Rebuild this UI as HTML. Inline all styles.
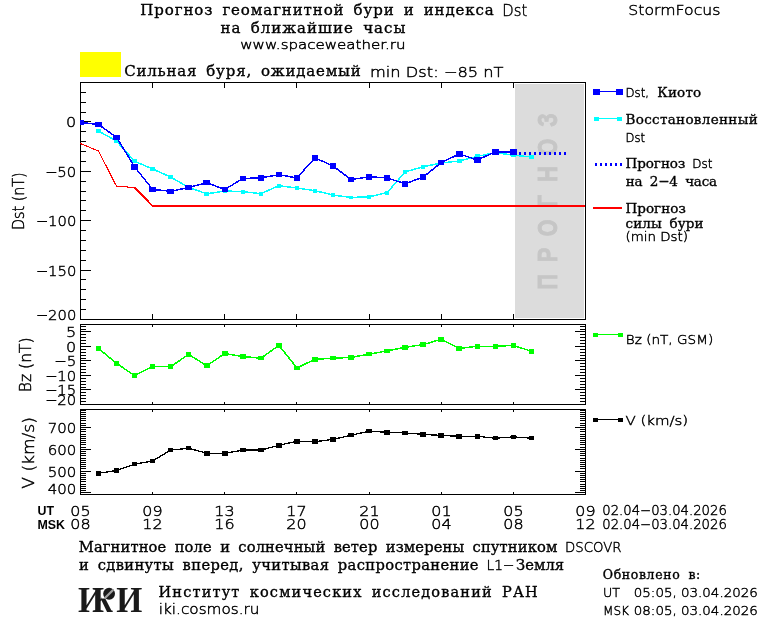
<!DOCTYPE html>
<html><head><meta charset="utf-8"><title>Прогноз геомагнитной бури</title>
<style>html,body{margin:0;padding:0;background:#fff;} svg{display:block;}</style></head>
<body><svg width="760" height="620" viewBox="0 0 760 620">
<rect width="760" height="620" fill="#fff"/>
<g shape-rendering="crispEdges">
<rect x="80" y="52" width="41" height="25" fill="#ffff00"/>
<rect x="515" y="84" width="69" height="234" fill="#dcdcdc"/>
</g>
<text transform="translate(557,281.8) rotate(-90) scale(0.78,1)" font-size="27.5" font-family="Liberation Sans, sans-serif" font-weight="bold" fill="#c6c6c6" stroke="#c6c6c6" stroke-width="0.9" text-anchor="middle">П</text>
<text transform="translate(557,254.9) rotate(-90) scale(0.78,1)" font-size="27.5" font-family="Liberation Sans, sans-serif" font-weight="bold" fill="#c6c6c6" stroke="#c6c6c6" stroke-width="0.9" text-anchor="middle">Р</text>
<text transform="translate(557,227.9) rotate(-90) scale(0.78,1)" font-size="27.5" font-family="Liberation Sans, sans-serif" font-weight="bold" fill="#c6c6c6" stroke="#c6c6c6" stroke-width="0.9" text-anchor="middle">О</text>
<text transform="translate(557,201.0) rotate(-90) scale(0.78,1)" font-size="27.5" font-family="Liberation Sans, sans-serif" font-weight="bold" fill="#c6c6c6" stroke="#c6c6c6" stroke-width="0.9" text-anchor="middle">Г</text>
<text transform="translate(557,174.0) rotate(-90) scale(0.78,1)" font-size="27.5" font-family="Liberation Sans, sans-serif" font-weight="bold" fill="#c6c6c6" stroke="#c6c6c6" stroke-width="0.9" text-anchor="middle">Н</text>
<text transform="translate(557,147.1) rotate(-90) scale(0.78,1)" font-size="27.5" font-family="Liberation Sans, sans-serif" font-weight="bold" fill="#c6c6c6" stroke="#c6c6c6" stroke-width="0.9" text-anchor="middle">О</text>
<text transform="translate(557,120.1) rotate(-90) scale(0.78,1)" font-size="27.5" font-family="Liberation Sans, sans-serif" font-weight="bold" fill="#c6c6c6" stroke="#c6c6c6" stroke-width="0.9" text-anchor="middle">З</text>
<g shape-rendering="crispEdges">
<rect x="80" y="82" width="506" height="1" fill="#000"/>
<rect x="80" y="319" width="506" height="1" fill="#000"/>
<rect x="80" y="82" width="1" height="238" fill="#000"/>
<rect x="585" y="82" width="1" height="238" fill="#000"/>
<rect x="80" y="324" width="506" height="1" fill="#000"/>
<rect x="80" y="404" width="506" height="1" fill="#000"/>
<rect x="80" y="324" width="1" height="81" fill="#000"/>
<rect x="585" y="324" width="1" height="81" fill="#000"/>
<rect x="80" y="409" width="506" height="1" fill="#000"/>
<rect x="80" y="494" width="506" height="1" fill="#000"/>
<rect x="80" y="409" width="1" height="86" fill="#000"/>
<rect x="585" y="409" width="1" height="86" fill="#000"/>
<rect x="152" y="83" width="1" height="5" fill="#000"/>
<rect x="152" y="314" width="1" height="5" fill="#000"/>
<rect x="152" y="325" width="1" height="2" fill="#000"/>
<rect x="152" y="402" width="1" height="2" fill="#000"/>
<rect x="152" y="410" width="1" height="2" fill="#000"/>
<rect x="152" y="492" width="1" height="2" fill="#000"/>
<rect x="224" y="83" width="1" height="5" fill="#000"/>
<rect x="224" y="314" width="1" height="5" fill="#000"/>
<rect x="224" y="325" width="1" height="2" fill="#000"/>
<rect x="224" y="402" width="1" height="2" fill="#000"/>
<rect x="224" y="410" width="1" height="2" fill="#000"/>
<rect x="224" y="492" width="1" height="2" fill="#000"/>
<rect x="296" y="83" width="1" height="5" fill="#000"/>
<rect x="296" y="314" width="1" height="5" fill="#000"/>
<rect x="296" y="325" width="1" height="2" fill="#000"/>
<rect x="296" y="402" width="1" height="2" fill="#000"/>
<rect x="296" y="410" width="1" height="2" fill="#000"/>
<rect x="296" y="492" width="1" height="2" fill="#000"/>
<rect x="369" y="83" width="1" height="5" fill="#000"/>
<rect x="369" y="314" width="1" height="5" fill="#000"/>
<rect x="369" y="325" width="1" height="2" fill="#000"/>
<rect x="369" y="402" width="1" height="2" fill="#000"/>
<rect x="369" y="410" width="1" height="2" fill="#000"/>
<rect x="369" y="492" width="1" height="2" fill="#000"/>
<rect x="441" y="83" width="1" height="5" fill="#000"/>
<rect x="441" y="314" width="1" height="5" fill="#000"/>
<rect x="441" y="325" width="1" height="2" fill="#000"/>
<rect x="441" y="402" width="1" height="2" fill="#000"/>
<rect x="441" y="410" width="1" height="2" fill="#000"/>
<rect x="441" y="492" width="1" height="2" fill="#000"/>
<rect x="513" y="83" width="1" height="5" fill="#000"/>
<rect x="513" y="314" width="1" height="5" fill="#000"/>
<rect x="513" y="325" width="1" height="2" fill="#000"/>
<rect x="513" y="402" width="1" height="2" fill="#000"/>
<rect x="513" y="410" width="1" height="2" fill="#000"/>
<rect x="513" y="492" width="1" height="2" fill="#000"/>
<rect x="81" y="92" width="5" height="1" fill="#000"/>
<rect x="81" y="102" width="5" height="1" fill="#000"/>
<rect x="81" y="112" width="5" height="1" fill="#000"/>
<rect x="81" y="121" width="10" height="1" fill="#000"/>
<rect x="81" y="131" width="5" height="1" fill="#000"/>
<rect x="81" y="141" width="5" height="1" fill="#000"/>
<rect x="81" y="151" width="5" height="1" fill="#000"/>
<rect x="81" y="161" width="5" height="1" fill="#000"/>
<rect x="81" y="171" width="10" height="1" fill="#000"/>
<rect x="81" y="181" width="5" height="1" fill="#000"/>
<rect x="81" y="191" width="5" height="1" fill="#000"/>
<rect x="81" y="200" width="5" height="1" fill="#000"/>
<rect x="81" y="210" width="5" height="1" fill="#000"/>
<rect x="81" y="220" width="10" height="1" fill="#000"/>
<rect x="81" y="230" width="5" height="1" fill="#000"/>
<rect x="81" y="240" width="5" height="1" fill="#000"/>
<rect x="81" y="250" width="5" height="1" fill="#000"/>
<rect x="81" y="260" width="5" height="1" fill="#000"/>
<rect x="81" y="270" width="10" height="1" fill="#000"/>
<rect x="81" y="279" width="5" height="1" fill="#000"/>
<rect x="81" y="289" width="5" height="1" fill="#000"/>
<rect x="81" y="299" width="5" height="1" fill="#000"/>
<rect x="81" y="309" width="5" height="1" fill="#000"/>
<rect x="81" y="326" width="5" height="1" fill="#000"/>
<rect x="580" y="326" width="5" height="1" fill="#000"/>
<rect x="81" y="329" width="5" height="1" fill="#000"/>
<rect x="580" y="329" width="5" height="1" fill="#000"/>
<rect x="81" y="331" width="10" height="1" fill="#000"/>
<rect x="575" y="331" width="10" height="1" fill="#000"/>
<rect x="81" y="334" width="5" height="1" fill="#000"/>
<rect x="580" y="334" width="5" height="1" fill="#000"/>
<rect x="81" y="337" width="5" height="1" fill="#000"/>
<rect x="580" y="337" width="5" height="1" fill="#000"/>
<rect x="81" y="340" width="5" height="1" fill="#000"/>
<rect x="580" y="340" width="5" height="1" fill="#000"/>
<rect x="81" y="343" width="5" height="1" fill="#000"/>
<rect x="580" y="343" width="5" height="1" fill="#000"/>
<rect x="81" y="346" width="10" height="1" fill="#000"/>
<rect x="575" y="346" width="10" height="1" fill="#000"/>
<rect x="81" y="349" width="5" height="1" fill="#000"/>
<rect x="580" y="349" width="5" height="1" fill="#000"/>
<rect x="81" y="352" width="5" height="1" fill="#000"/>
<rect x="580" y="352" width="5" height="1" fill="#000"/>
<rect x="81" y="355" width="5" height="1" fill="#000"/>
<rect x="580" y="355" width="5" height="1" fill="#000"/>
<rect x="81" y="358" width="5" height="1" fill="#000"/>
<rect x="580" y="358" width="5" height="1" fill="#000"/>
<rect x="81" y="360" width="10" height="1" fill="#000"/>
<rect x="575" y="360" width="10" height="1" fill="#000"/>
<rect x="81" y="363" width="5" height="1" fill="#000"/>
<rect x="580" y="363" width="5" height="1" fill="#000"/>
<rect x="81" y="366" width="5" height="1" fill="#000"/>
<rect x="580" y="366" width="5" height="1" fill="#000"/>
<rect x="81" y="369" width="5" height="1" fill="#000"/>
<rect x="580" y="369" width="5" height="1" fill="#000"/>
<rect x="81" y="372" width="5" height="1" fill="#000"/>
<rect x="580" y="372" width="5" height="1" fill="#000"/>
<rect x="81" y="375" width="10" height="1" fill="#000"/>
<rect x="575" y="375" width="10" height="1" fill="#000"/>
<rect x="81" y="378" width="5" height="1" fill="#000"/>
<rect x="580" y="378" width="5" height="1" fill="#000"/>
<rect x="81" y="381" width="5" height="1" fill="#000"/>
<rect x="580" y="381" width="5" height="1" fill="#000"/>
<rect x="81" y="384" width="5" height="1" fill="#000"/>
<rect x="580" y="384" width="5" height="1" fill="#000"/>
<rect x="81" y="387" width="5" height="1" fill="#000"/>
<rect x="580" y="387" width="5" height="1" fill="#000"/>
<rect x="81" y="389" width="10" height="1" fill="#000"/>
<rect x="575" y="389" width="10" height="1" fill="#000"/>
<rect x="81" y="392" width="5" height="1" fill="#000"/>
<rect x="580" y="392" width="5" height="1" fill="#000"/>
<rect x="81" y="395" width="5" height="1" fill="#000"/>
<rect x="580" y="395" width="5" height="1" fill="#000"/>
<rect x="81" y="398" width="5" height="1" fill="#000"/>
<rect x="580" y="398" width="5" height="1" fill="#000"/>
<rect x="81" y="401" width="5" height="1" fill="#000"/>
<rect x="580" y="401" width="5" height="1" fill="#000"/>
<rect x="81" y="410" width="5" height="1" fill="#000"/>
<rect x="580" y="410" width="5" height="1" fill="#000"/>
<rect x="81" y="412" width="5" height="1" fill="#000"/>
<rect x="580" y="412" width="5" height="1" fill="#000"/>
<rect x="81" y="414" width="5" height="1" fill="#000"/>
<rect x="580" y="414" width="5" height="1" fill="#000"/>
<rect x="81" y="416" width="5" height="1" fill="#000"/>
<rect x="580" y="416" width="5" height="1" fill="#000"/>
<rect x="81" y="418" width="5" height="1" fill="#000"/>
<rect x="580" y="418" width="5" height="1" fill="#000"/>
<rect x="81" y="420" width="5" height="1" fill="#000"/>
<rect x="580" y="420" width="5" height="1" fill="#000"/>
<rect x="81" y="423" width="5" height="1" fill="#000"/>
<rect x="580" y="423" width="5" height="1" fill="#000"/>
<rect x="81" y="425" width="5" height="1" fill="#000"/>
<rect x="580" y="425" width="5" height="1" fill="#000"/>
<rect x="81" y="427" width="10" height="1" fill="#000"/>
<rect x="575" y="427" width="10" height="1" fill="#000"/>
<rect x="81" y="429" width="5" height="1" fill="#000"/>
<rect x="580" y="429" width="5" height="1" fill="#000"/>
<rect x="81" y="431" width="5" height="1" fill="#000"/>
<rect x="580" y="431" width="5" height="1" fill="#000"/>
<rect x="81" y="434" width="5" height="1" fill="#000"/>
<rect x="580" y="434" width="5" height="1" fill="#000"/>
<rect x="81" y="436" width="5" height="1" fill="#000"/>
<rect x="580" y="436" width="5" height="1" fill="#000"/>
<rect x="81" y="438" width="5" height="1" fill="#000"/>
<rect x="580" y="438" width="5" height="1" fill="#000"/>
<rect x="81" y="440" width="5" height="1" fill="#000"/>
<rect x="580" y="440" width="5" height="1" fill="#000"/>
<rect x="81" y="442" width="5" height="1" fill="#000"/>
<rect x="580" y="442" width="5" height="1" fill="#000"/>
<rect x="81" y="444" width="5" height="1" fill="#000"/>
<rect x="580" y="444" width="5" height="1" fill="#000"/>
<rect x="81" y="447" width="5" height="1" fill="#000"/>
<rect x="580" y="447" width="5" height="1" fill="#000"/>
<rect x="81" y="449" width="10" height="1" fill="#000"/>
<rect x="575" y="449" width="10" height="1" fill="#000"/>
<rect x="81" y="451" width="5" height="1" fill="#000"/>
<rect x="580" y="451" width="5" height="1" fill="#000"/>
<rect x="81" y="453" width="5" height="1" fill="#000"/>
<rect x="580" y="453" width="5" height="1" fill="#000"/>
<rect x="81" y="455" width="5" height="1" fill="#000"/>
<rect x="580" y="455" width="5" height="1" fill="#000"/>
<rect x="81" y="458" width="5" height="1" fill="#000"/>
<rect x="580" y="458" width="5" height="1" fill="#000"/>
<rect x="81" y="460" width="5" height="1" fill="#000"/>
<rect x="580" y="460" width="5" height="1" fill="#000"/>
<rect x="81" y="462" width="5" height="1" fill="#000"/>
<rect x="580" y="462" width="5" height="1" fill="#000"/>
<rect x="81" y="464" width="5" height="1" fill="#000"/>
<rect x="580" y="464" width="5" height="1" fill="#000"/>
<rect x="81" y="466" width="5" height="1" fill="#000"/>
<rect x="580" y="466" width="5" height="1" fill="#000"/>
<rect x="81" y="468" width="5" height="1" fill="#000"/>
<rect x="580" y="468" width="5" height="1" fill="#000"/>
<rect x="81" y="471" width="10" height="1" fill="#000"/>
<rect x="575" y="471" width="10" height="1" fill="#000"/>
<rect x="81" y="473" width="5" height="1" fill="#000"/>
<rect x="580" y="473" width="5" height="1" fill="#000"/>
<rect x="81" y="475" width="5" height="1" fill="#000"/>
<rect x="580" y="475" width="5" height="1" fill="#000"/>
<rect x="81" y="477" width="5" height="1" fill="#000"/>
<rect x="580" y="477" width="5" height="1" fill="#000"/>
<rect x="81" y="479" width="5" height="1" fill="#000"/>
<rect x="580" y="479" width="5" height="1" fill="#000"/>
<rect x="81" y="481" width="5" height="1" fill="#000"/>
<rect x="580" y="481" width="5" height="1" fill="#000"/>
<rect x="81" y="484" width="5" height="1" fill="#000"/>
<rect x="580" y="484" width="5" height="1" fill="#000"/>
<rect x="81" y="486" width="5" height="1" fill="#000"/>
<rect x="580" y="486" width="5" height="1" fill="#000"/>
<rect x="81" y="488" width="5" height="1" fill="#000"/>
<rect x="580" y="488" width="5" height="1" fill="#000"/>
<rect x="81" y="490" width="5" height="1" fill="#000"/>
<rect x="580" y="490" width="5" height="1" fill="#000"/>
<rect x="81" y="492" width="10" height="1" fill="#000"/>
<rect x="575" y="492" width="10" height="1" fill="#000"/>
</g>
<defs><clipPath id="cd"><rect x="80" y="82" width="505" height="238"/></clipPath></defs>
<g clip-path="url(#cd)">
<polyline points="80,143.4 98.5,151 116.5,186.2 134.5,187.5" fill="none" stroke="#ff0000" stroke-width="1.1" shape-rendering="crispEdges"/>
<polyline points="134.5,187.5 152.5,206 585,206" fill="none" stroke="#ff0000" stroke-width="2" shape-rendering="crispEdges"/>
<polyline points="98.5,131.0 116.6,141.2 134.6,161.2 152.6,169.0 170.7,177.0 188.7,187.5 206.8,193.8 224.8,191.0 242.8,191.6 260.9,193.7 278.9,185.7 296.9,188.0 315.0,190.7 333.0,195.0 351.0,197.5 369.1,196.8 387.1,192.6 405.1,172.0 423.2,166.7 441.2,163.0 459.2,161.0 477.3,156.4 495.3,152.6 513.4,155.2 531.4,157.0" fill="none" stroke="#00ffff" stroke-width="1.5" stroke-linejoin="round" shape-rendering="crispEdges"/>
<g shape-rendering="crispEdges">
<rect x="96" y="129" width="5" height="4" fill="#00ffff"/>
<rect x="114" y="139" width="5" height="4" fill="#00ffff"/>
<rect x="132" y="159" width="5" height="4" fill="#00ffff"/>
<rect x="150" y="167" width="5" height="4" fill="#00ffff"/>
<rect x="168" y="175" width="5" height="4" fill="#00ffff"/>
<rect x="186" y="186" width="5" height="3" fill="#00ffff"/>
<rect x="204" y="192" width="5" height="4" fill="#00ffff"/>
<rect x="223" y="189" width="4" height="4" fill="#00ffff"/>
<rect x="241" y="190" width="4" height="4" fill="#00ffff"/>
<rect x="259" y="192" width="4" height="4" fill="#00ffff"/>
<rect x="277" y="184" width="4" height="4" fill="#00ffff"/>
<rect x="295" y="186" width="4" height="4" fill="#00ffff"/>
<rect x="313" y="189" width="4" height="4" fill="#00ffff"/>
<rect x="331" y="193" width="4" height="4" fill="#00ffff"/>
<rect x="349" y="196" width="4" height="3" fill="#00ffff"/>
<rect x="367" y="195" width="4" height="4" fill="#00ffff"/>
<rect x="385" y="191" width="4" height="4" fill="#00ffff"/>
<rect x="403" y="170" width="4" height="4" fill="#00ffff"/>
<rect x="421" y="165" width="4" height="4" fill="#00ffff"/>
<rect x="439" y="161" width="4" height="4" fill="#00ffff"/>
<rect x="457" y="159" width="5" height="4" fill="#00ffff"/>
<rect x="475" y="154" width="5" height="4" fill="#00ffff"/>
<rect x="493" y="151" width="5" height="4" fill="#00ffff"/>
<rect x="511" y="153" width="5" height="4" fill="#00ffff"/>
<rect x="529" y="155" width="5" height="4" fill="#00ffff"/>
</g>
<polyline points="80.5,122.4 98.5,124.5 116.6,137.5 134.6,166.8 152.6,189.4 170.7,191.3 188.7,187.5 206.8,182.6 224.8,189.5 242.8,178.5 260.9,177.9 278.9,174.7 296.9,177.9 315.0,157.9 333.0,165.9 351.0,179.6 369.1,176.8 387.1,177.9 405.1,183.8 423.2,177.0 441.2,162.7 459.2,153.9 477.3,160.0 495.3,151.8 513.4,151.8" fill="none" stroke="#0000ff" stroke-width="1.5" stroke-linejoin="round" shape-rendering="crispEdges"/>
<g shape-rendering="crispEdges">
<rect x="77" y="120" width="7" height="5" fill="#0000ff"/>
<rect x="95" y="122" width="7" height="5" fill="#0000ff"/>
<rect x="113" y="135" width="7" height="5" fill="#0000ff"/>
<rect x="131" y="164" width="7" height="6" fill="#0000ff"/>
<rect x="149" y="187" width="7" height="5" fill="#0000ff"/>
<rect x="167" y="189" width="7" height="5" fill="#0000ff"/>
<rect x="185" y="185" width="7" height="5" fill="#0000ff"/>
<rect x="203" y="180" width="7" height="5" fill="#0000ff"/>
<rect x="222" y="187" width="6" height="5" fill="#0000ff"/>
<rect x="240" y="176" width="6" height="5" fill="#0000ff"/>
<rect x="258" y="175" width="6" height="6" fill="#0000ff"/>
<rect x="276" y="172" width="6" height="5" fill="#0000ff"/>
<rect x="294" y="175" width="6" height="6" fill="#0000ff"/>
<rect x="312" y="155" width="6" height="6" fill="#0000ff"/>
<rect x="330" y="163" width="6" height="6" fill="#0000ff"/>
<rect x="348" y="177" width="6" height="5" fill="#0000ff"/>
<rect x="366" y="174" width="6" height="6" fill="#0000ff"/>
<rect x="384" y="175" width="6" height="6" fill="#0000ff"/>
<rect x="402" y="181" width="6" height="6" fill="#0000ff"/>
<rect x="420" y="174" width="6" height="6" fill="#0000ff"/>
<rect x="438" y="160" width="6" height="5" fill="#0000ff"/>
<rect x="456" y="151" width="7" height="6" fill="#0000ff"/>
<rect x="474" y="157" width="7" height="6" fill="#0000ff"/>
<rect x="492" y="149" width="7" height="6" fill="#0000ff"/>
<rect x="510" y="149" width="7" height="6" fill="#0000ff"/>
</g>
<line x1="514" y1="153" x2="566" y2="154" stroke="#0000ff" stroke-width="3" stroke-dasharray="2 3" shape-rendering="crispEdges"/>
</g>
<polyline points="98.5,348.5 116.6,363.4 134.6,375.6 152.6,366.6 170.7,366.6 188.7,354.4 206.8,365.7 224.8,353.5 242.8,356.5 260.9,358.2 278.9,345.4 296.9,367.9 315.0,359.3 333.0,358.2 351.0,357.4 369.1,354.2 387.1,350.9 405.1,347.3 423.2,344.6 441.2,339.3 459.2,348.4 477.3,346.3 495.3,346.3 513.4,345.4 531.4,351.3" fill="none" stroke="#00ff00" stroke-width="1.5" stroke-linejoin="round" shape-rendering="crispEdges"/>
<g shape-rendering="crispEdges">
<rect x="96" y="346" width="5" height="5" fill="#00ff00"/>
<rect x="114" y="361" width="5" height="5" fill="#00ff00"/>
<rect x="132" y="373" width="5" height="5" fill="#00ff00"/>
<rect x="150" y="364" width="5" height="5" fill="#00ff00"/>
<rect x="168" y="364" width="5" height="5" fill="#00ff00"/>
<rect x="186" y="352" width="5" height="5" fill="#00ff00"/>
<rect x="204" y="363" width="6" height="5" fill="#00ff00"/>
<rect x="222" y="351" width="6" height="5" fill="#00ff00"/>
<rect x="240" y="354" width="6" height="5" fill="#00ff00"/>
<rect x="258" y="356" width="6" height="4" fill="#00ff00"/>
<rect x="276" y="343" width="6" height="5" fill="#00ff00"/>
<rect x="294" y="366" width="6" height="4" fill="#00ff00"/>
<rect x="312" y="357" width="6" height="5" fill="#00ff00"/>
<rect x="330" y="356" width="6" height="4" fill="#00ff00"/>
<rect x="348" y="355" width="6" height="5" fill="#00ff00"/>
<rect x="366" y="352" width="6" height="4" fill="#00ff00"/>
<rect x="384" y="349" width="6" height="4" fill="#00ff00"/>
<rect x="402" y="345" width="6" height="5" fill="#00ff00"/>
<rect x="420" y="342" width="6" height="5" fill="#00ff00"/>
<rect x="438" y="337" width="6" height="5" fill="#00ff00"/>
<rect x="456" y="346" width="6" height="5" fill="#00ff00"/>
<rect x="475" y="344" width="5" height="5" fill="#00ff00"/>
<rect x="493" y="344" width="5" height="5" fill="#00ff00"/>
<rect x="511" y="343" width="5" height="5" fill="#00ff00"/>
<rect x="529" y="349" width="5" height="5" fill="#00ff00"/>
</g>
<polyline points="98.5,473.3 116.6,470.5 134.6,464.2 152.6,461.0 170.7,450.1 188.7,448.2 206.8,453.3 224.8,453.3 242.8,450.1 260.9,450.1 278.9,445.3 296.9,441.3 315.0,441.7 333.0,439.4 351.0,435.2 369.1,431.2 387.1,432.3 405.1,432.9 423.2,434.4 441.2,435.4 459.2,436.3 477.3,436.3 495.3,438.2 513.4,436.9 531.4,438.2" fill="none" stroke="#000000" stroke-width="1.3" stroke-linejoin="round" shape-rendering="crispEdges"/>
<g shape-rendering="crispEdges">
<rect x="96" y="471" width="5" height="5" fill="#000000"/>
<rect x="114" y="468" width="5" height="5" fill="#000000"/>
<rect x="132" y="462" width="5" height="4" fill="#000000"/>
<rect x="150" y="459" width="5" height="4" fill="#000000"/>
<rect x="168" y="448" width="5" height="4" fill="#000000"/>
<rect x="186" y="446" width="5" height="4" fill="#000000"/>
<rect x="204" y="451" width="6" height="5" fill="#000000"/>
<rect x="222" y="451" width="6" height="5" fill="#000000"/>
<rect x="240" y="448" width="6" height="4" fill="#000000"/>
<rect x="258" y="448" width="6" height="4" fill="#000000"/>
<rect x="276" y="443" width="6" height="5" fill="#000000"/>
<rect x="294" y="439" width="6" height="5" fill="#000000"/>
<rect x="312" y="439" width="6" height="5" fill="#000000"/>
<rect x="330" y="437" width="6" height="5" fill="#000000"/>
<rect x="348" y="433" width="6" height="4" fill="#000000"/>
<rect x="366" y="429" width="6" height="4" fill="#000000"/>
<rect x="384" y="430" width="6" height="5" fill="#000000"/>
<rect x="402" y="431" width="6" height="4" fill="#000000"/>
<rect x="420" y="432" width="6" height="5" fill="#000000"/>
<rect x="438" y="433" width="6" height="5" fill="#000000"/>
<rect x="456" y="434" width="6" height="5" fill="#000000"/>
<rect x="475" y="434" width="5" height="5" fill="#000000"/>
<rect x="493" y="436" width="5" height="4" fill="#000000"/>
<rect x="511" y="435" width="5" height="4" fill="#000000"/>
<rect x="529" y="436" width="5" height="4" fill="#000000"/>
</g>
<g shape-rendering="crispEdges">
<rect x="593" y="89" width="7" height="6" fill="#0000ff"/><rect x="616" y="89" width="7" height="6" fill="#0000ff"/><rect x="596" y="91" width="24" height="1" fill="#0000ff"/>
<rect x="594" y="117" width="5" height="4" fill="#00ffff"/><rect x="617" y="117" width="5" height="4" fill="#00ffff"/><rect x="596" y="118" width="24" height="1" fill="#00ffff"/>
<rect x="593" y="333" width="5" height="4" fill="#00ff00"/><rect x="618" y="333" width="5" height="4" fill="#00ff00"/><rect x="595" y="334" width="26" height="1" fill="#00ff00"/>
<rect x="593" y="418" width="5" height="4" fill="#000"/><rect x="618" y="418" width="5" height="4" fill="#000"/><rect x="595" y="419" width="26" height="1" fill="#000"/>
<rect x="593" y="207" width="29" height="2" fill="#ff0000"/>
</g>
<line x1="595" y1="164.5" x2="622" y2="164.5" stroke="#0000ff" stroke-width="3" stroke-dasharray="2 3" shape-rendering="crispEdges"/>
<text x="140.35 154.30 164.78 174.68 183.42 194.29 204.19 213.25 222.39 231.12 240.87 250.78 263.32 273.14 281.87 292.74 303.61 312.78 323.65 333.56 344.43 353.57 363.48 373.18 383.65 394.52 403.67 414.54 423.68 434.55 445.42 455.53 465.28 475.53 484.81" y="15" font-size="15" font-family="DejaVu Serif, serif" stroke="#000" stroke-width="0.35">Прогноз геомагнитной бури и индекса</text>
<text x="502.3" y="15.8" font-size="16.5" font-family="DejaVu Sans, Liberation Sans, sans-serif" font-weight="200" stroke="#000" stroke-width="0.45" textLength="25.0" lengthAdjust="spacingAndGlyphs" >Dst</text>
<text x="220.46 231.47 241.42 250.69 260.73 271.26 282.27 297.07 307.02 318.03 332.98 343.98 353.87 363.14 374.06 384.01 393.42" y="33" font-size="15" font-family="DejaVu Serif, serif" stroke="#000" stroke-width="0.35">на ближайшие часы</text>
<text x="240.3" y="49.0" font-size="12.8" font-family="DejaVu Sans, Liberation Sans, sans-serif" font-weight="200" stroke="#000" stroke-width="0.45" textLength="165.3" lengthAdjust="spacingAndGlyphs" >www.spaceweather.ru</text>
<text x="628.3" y="15.2" font-size="14.6" font-family="DejaVu Sans, Liberation Sans, sans-serif" font-weight="200" stroke="#000" stroke-width="0.45" textLength="92.2" lengthAdjust="spacingAndGlyphs" >StormFocus</text>
<text x="124.13 136.40 147.19 157.51 166.47 177.25 186.99 197.24 206.30 216.12 225.74 236.13 246.39 251.94 261.00 270.82 285.41 296.20 306.23 315.96 325.63 338.09 350.82" y="76" font-size="15" font-family="DejaVu Serif, serif" stroke="#000" stroke-width="0.35">Сильная буря, ожидаемый</text>
<text x="370.0" y="76.5" font-size="14.6" font-family="DejaVu Sans, Liberation Sans, sans-serif" font-weight="200" stroke="#000" stroke-width="0.45" textLength="133.5" lengthAdjust="spacingAndGlyphs" >min Dst: −85 nT</text>
<text x="625.5" y="96.5" font-size="12.5" font-family="DejaVu Sans, Liberation Sans, sans-serif" font-weight="200" stroke="#000" stroke-width="0.45" textLength="23.5" lengthAdjust="spacingAndGlyphs" >Dst,</text>
<text x="657.23 667.88 677.08 685.41 693.08" y="96.5" font-size="13.5" font-family="DejaVu Serif, serif" stroke="#000" stroke-width="0.35">Киото</text>
<text x="625.43 635.68 644.13 652.02 659.91 667.71 676.08 685.41 693.87 701.79 710.70 719.02 728.34 737.67 748.74" y="124" font-size="13.5" font-family="DejaVu Serif, serif" stroke="#000" stroke-width="0.35">Восстановленный</text>
<text x="625.5" y="142.0" font-size="12.5" font-family="DejaVu Sans, Liberation Sans, sans-serif" font-weight="200" stroke="#000" stroke-width="0.45" textLength="19.5" lengthAdjust="spacingAndGlyphs" >Dst</text>
<text x="625.43 637.16 645.77 653.85 660.89 669.85 677.93" y="168.2" font-size="13.5" font-family="DejaVu Serif, serif" stroke="#000" stroke-width="0.35">Прогноз</text>
<text x="692.2" y="168.2" font-size="12.5" font-family="DejaVu Sans, Liberation Sans, sans-serif" font-weight="200" stroke="#000" stroke-width="0.45" textLength="20.2" lengthAdjust="spacingAndGlyphs" >Dst</text>
<text x="625.71 634.47 642.28 649.83 658.18 669.25 677.60 685.15 693.83 701.64 708.96" y="186" font-size="13.5" font-family="DejaVu Serif, serif" stroke="#000" stroke-width="0.35">на 2−4 часа</text>
<text x="625.43 637.25 645.93 654.10 661.22 670.26 678.43" y="212.7" font-size="13.5" font-family="DejaVu Serif, serif" stroke="#000" stroke-width="0.35">Прогноз</text>
<text x="625.50 633.15 642.22 650.88 661.71 669.58 677.79 685.82 694.54" y="228" font-size="13.5" font-family="DejaVu Serif, serif" stroke="#000" stroke-width="0.35">силы бури</text>
<text x="625.5" y="240.5" font-size="12.5" font-family="DejaVu Sans, Liberation Sans, sans-serif" font-weight="200" stroke="#000" stroke-width="0.45" textLength="62.5" lengthAdjust="spacingAndGlyphs" >(min Dst)</text>
<text x="625.8" y="343.6" font-size="13" font-family="DejaVu Sans, Liberation Sans, sans-serif" font-weight="200" stroke="#000" stroke-width="0.45" textLength="87.4" lengthAdjust="spacingAndGlyphs" >Bz (nT, GSM)</text>
<text x="625.4" y="425.3" font-size="13" font-family="DejaVu Sans, Liberation Sans, sans-serif" font-weight="200" stroke="#000" stroke-width="0.45" textLength="62.8" lengthAdjust="spacingAndGlyphs" >V (km/s)</text>
<text x="76.3" y="127.4" font-size="14.5" font-family="DejaVu Sans, Liberation Sans, sans-serif" font-weight="200" stroke="#000" stroke-width="0.45" text-anchor="end" textLength="10.2" lengthAdjust="spacingAndGlyphs">0</text>
<text x="76.3" y="177.4" font-size="14.5" font-family="DejaVu Sans, Liberation Sans, sans-serif" font-weight="200" stroke="#000" stroke-width="0.45" text-anchor="end" textLength="31.4" lengthAdjust="spacingAndGlyphs">−50</text>
<text x="76.3" y="226.4" font-size="14.5" font-family="DejaVu Sans, Liberation Sans, sans-serif" font-weight="200" stroke="#000" stroke-width="0.45" text-anchor="end" textLength="40.6" lengthAdjust="spacingAndGlyphs">−100</text>
<text x="76.3" y="276.4" font-size="14.5" font-family="DejaVu Sans, Liberation Sans, sans-serif" font-weight="200" stroke="#000" stroke-width="0.45" text-anchor="end" textLength="40.6" lengthAdjust="spacingAndGlyphs">−150</text>
<text x="76.3" y="319.8" font-size="14.5" font-family="DejaVu Sans, Liberation Sans, sans-serif" font-weight="200" stroke="#000" stroke-width="0.45" text-anchor="end" textLength="40.6" lengthAdjust="spacingAndGlyphs">−200</text>
<text x="76.3" y="337.4" font-size="14.5" font-family="DejaVu Sans, Liberation Sans, sans-serif" font-weight="200" stroke="#000" stroke-width="0.45" text-anchor="end" textLength="10.2" lengthAdjust="spacingAndGlyphs">5</text>
<text x="76.3" y="352.4" font-size="14.5" font-family="DejaVu Sans, Liberation Sans, sans-serif" font-weight="200" stroke="#000" stroke-width="0.45" text-anchor="end" textLength="10.2" lengthAdjust="spacingAndGlyphs">0</text>
<text x="76.3" y="366.4" font-size="14.5" font-family="DejaVu Sans, Liberation Sans, sans-serif" font-weight="200" stroke="#000" stroke-width="0.45" text-anchor="end" textLength="22.2" lengthAdjust="spacingAndGlyphs">−5</text>
<text x="76.3" y="381.4" font-size="14.5" font-family="DejaVu Sans, Liberation Sans, sans-serif" font-weight="200" stroke="#000" stroke-width="0.45" text-anchor="end" textLength="31.4" lengthAdjust="spacingAndGlyphs">−10</text>
<text x="76.3" y="395.4" font-size="14.5" font-family="DejaVu Sans, Liberation Sans, sans-serif" font-weight="200" stroke="#000" stroke-width="0.45" text-anchor="end" textLength="31.4" lengthAdjust="spacingAndGlyphs">−15</text>
<text x="76.3" y="404.5" font-size="14.5" font-family="DejaVu Sans, Liberation Sans, sans-serif" font-weight="200" stroke="#000" stroke-width="0.45" text-anchor="end" textLength="31.4" lengthAdjust="spacingAndGlyphs">−20</text>
<text x="76.3" y="433.4" font-size="14.5" font-family="DejaVu Sans, Liberation Sans, sans-serif" font-weight="200" stroke="#000" stroke-width="0.45" text-anchor="end" textLength="28.6" lengthAdjust="spacingAndGlyphs">700</text>
<text x="76.3" y="455.4" font-size="14.5" font-family="DejaVu Sans, Liberation Sans, sans-serif" font-weight="200" stroke="#000" stroke-width="0.45" text-anchor="end" textLength="28.6" lengthAdjust="spacingAndGlyphs">600</text>
<text x="76.3" y="477.4" font-size="14.5" font-family="DejaVu Sans, Liberation Sans, sans-serif" font-weight="200" stroke="#000" stroke-width="0.45" text-anchor="end" textLength="28.6" lengthAdjust="spacingAndGlyphs">500</text>
<text x="76.3" y="494.4" font-size="14.5" font-family="DejaVu Sans, Liberation Sans, sans-serif" font-weight="200" stroke="#000" stroke-width="0.45" text-anchor="end" textLength="28.6" lengthAdjust="spacingAndGlyphs">400</text>
<text transform="translate(24.3,201.2) rotate(-90)" font-size="15.5" font-family="DejaVu Sans, Liberation Sans, sans-serif" font-weight="200" stroke="#000" stroke-width="0.45" text-anchor="middle" textLength="57.6" lengthAdjust="spacingAndGlyphs">Dst (nT)</text>
<text transform="translate(31.2,364.8) rotate(-90)" font-size="15.5" font-family="DejaVu Sans, Liberation Sans, sans-serif" font-weight="200" stroke="#000" stroke-width="0.45" text-anchor="middle" textLength="54.7" lengthAdjust="spacingAndGlyphs">Bz (nT)</text>
<text transform="translate(34.2,452.9) rotate(-90)" font-size="15.5" font-family="DejaVu Sans, Liberation Sans, sans-serif" font-weight="200" stroke="#000" stroke-width="0.45" text-anchor="middle" textLength="71.5" lengthAdjust="spacingAndGlyphs">V (km/s)</text>
<text x="37.5" y="515.3" font-size="13" font-family="Liberation Sans, DejaVu Sans, sans-serif" font-weight="bold" textLength="16.5" lengthAdjust="spacingAndGlyphs">UT</text>
<text x="37.5" y="529.2" font-size="13" font-family="Liberation Sans, DejaVu Sans, sans-serif" font-weight="bold" textLength="27.5" lengthAdjust="spacingAndGlyphs">MSK</text>
<text x="80.5" y="515.5" font-size="14.5" font-family="DejaVu Sans, Liberation Sans, sans-serif" font-weight="200" stroke="#000" stroke-width="0.45" text-anchor="middle" textLength="20.3" lengthAdjust="spacingAndGlyphs">05</text>
<text x="80.5" y="529" font-size="14.5" font-family="DejaVu Sans, Liberation Sans, sans-serif" font-weight="200" stroke="#000" stroke-width="0.45" text-anchor="middle" textLength="20.3" lengthAdjust="spacingAndGlyphs">08</text>
<text x="152.5" y="515.5" font-size="14.5" font-family="DejaVu Sans, Liberation Sans, sans-serif" font-weight="200" stroke="#000" stroke-width="0.45" text-anchor="middle" textLength="20.3" lengthAdjust="spacingAndGlyphs">09</text>
<text x="152.5" y="529" font-size="14.5" font-family="DejaVu Sans, Liberation Sans, sans-serif" font-weight="200" stroke="#000" stroke-width="0.45" text-anchor="middle" textLength="20.3" lengthAdjust="spacingAndGlyphs">12</text>
<text x="224.5" y="515.5" font-size="14.5" font-family="DejaVu Sans, Liberation Sans, sans-serif" font-weight="200" stroke="#000" stroke-width="0.45" text-anchor="middle" textLength="20.3" lengthAdjust="spacingAndGlyphs">13</text>
<text x="224.5" y="529" font-size="14.5" font-family="DejaVu Sans, Liberation Sans, sans-serif" font-weight="200" stroke="#000" stroke-width="0.45" text-anchor="middle" textLength="20.3" lengthAdjust="spacingAndGlyphs">16</text>
<text x="296.5" y="515.5" font-size="14.5" font-family="DejaVu Sans, Liberation Sans, sans-serif" font-weight="200" stroke="#000" stroke-width="0.45" text-anchor="middle" textLength="20.3" lengthAdjust="spacingAndGlyphs">17</text>
<text x="296.5" y="529" font-size="14.5" font-family="DejaVu Sans, Liberation Sans, sans-serif" font-weight="200" stroke="#000" stroke-width="0.45" text-anchor="middle" textLength="20.3" lengthAdjust="spacingAndGlyphs">20</text>
<text x="369.5" y="515.5" font-size="14.5" font-family="DejaVu Sans, Liberation Sans, sans-serif" font-weight="200" stroke="#000" stroke-width="0.45" text-anchor="middle" textLength="20.3" lengthAdjust="spacingAndGlyphs">21</text>
<text x="369.5" y="529" font-size="14.5" font-family="DejaVu Sans, Liberation Sans, sans-serif" font-weight="200" stroke="#000" stroke-width="0.45" text-anchor="middle" textLength="20.3" lengthAdjust="spacingAndGlyphs">00</text>
<text x="441.5" y="515.5" font-size="14.5" font-family="DejaVu Sans, Liberation Sans, sans-serif" font-weight="200" stroke="#000" stroke-width="0.45" text-anchor="middle" textLength="20.3" lengthAdjust="spacingAndGlyphs">01</text>
<text x="441.5" y="529" font-size="14.5" font-family="DejaVu Sans, Liberation Sans, sans-serif" font-weight="200" stroke="#000" stroke-width="0.45" text-anchor="middle" textLength="20.3" lengthAdjust="spacingAndGlyphs">04</text>
<text x="513.5" y="515.5" font-size="14.5" font-family="DejaVu Sans, Liberation Sans, sans-serif" font-weight="200" stroke="#000" stroke-width="0.45" text-anchor="middle" textLength="20.3" lengthAdjust="spacingAndGlyphs">05</text>
<text x="513.5" y="529" font-size="14.5" font-family="DejaVu Sans, Liberation Sans, sans-serif" font-weight="200" stroke="#000" stroke-width="0.45" text-anchor="middle" textLength="20.3" lengthAdjust="spacingAndGlyphs">08</text>
<text x="585.5" y="515.5" font-size="14.5" font-family="DejaVu Sans, Liberation Sans, sans-serif" font-weight="200" stroke="#000" stroke-width="0.45" text-anchor="middle" textLength="20.3" lengthAdjust="spacingAndGlyphs">09</text>
<text x="585.5" y="529" font-size="14.5" font-family="DejaVu Sans, Liberation Sans, sans-serif" font-weight="200" stroke="#000" stroke-width="0.45" text-anchor="middle" textLength="20.3" lengthAdjust="spacingAndGlyphs">12</text>
<text x="602.3" y="515.2" font-size="13.5" font-family="DejaVu Sans, Liberation Sans, sans-serif" font-weight="200" stroke="#000" stroke-width="0.45" textLength="124.5" lengthAdjust="spacingAndGlyphs" >02.04−03.04.2026</text>
<text x="602.3" y="529.2" font-size="13.5" font-family="DejaVu Sans, Liberation Sans, sans-serif" font-weight="200" stroke="#000" stroke-width="0.45" textLength="124.5" lengthAdjust="spacingAndGlyphs" >02.04−03.04.2026</text>
<text x="78.74 93.91 102.80 110.62 120.53 130.45 138.70 148.61 157.58 166.40 174.69 184.61 193.58 203.03 211.85 220.14 230.06 238.35 246.70 255.67 265.12 275.04 283.86 293.70 303.61 315.43 325.35 333.64 342.03 350.85 359.10 367.92 377.45 385.74 395.65 403.79 415.34 424.16 433.69 442.51 452.42 464.24 472.53 480.88 490.80 499.56 507.82 517.73 527.65 536.95 545.92" y="552" font-size="14.7" font-family="DejaVu Serif, serif" stroke="#000" stroke-width="0.35">Магнитное поле и солнечный ветер измерены спутником</text>
<text x="565.0" y="552.4" font-size="14" font-family="DejaVu Sans, Liberation Sans, sans-serif" font-weight="200" stroke="#000" stroke-width="0.45" textLength="56.5" lengthAdjust="spacingAndGlyphs" >DSCOVR</text>
<text x="78.97 89.12 97.65 106.23 115.63 124.26 134.41 144.56 153.56 162.04 174.09 182.61 191.24 201.39 210.44 220.20 229.25 238.65 243.68 252.20 261.20 271.27 281.42 289.90 301.96 310.58 319.70 329.32 337.85 347.61 356.72 365.31 375.45 385.22 394.42 403.00 411.48 421.25 430.36 440.51 449.56 459.71 469.86" y="570" font-size="14.7" font-family="DejaVu Serif, serif" stroke="#000" stroke-width="0.35">и сдвинуты вперед, учитывая распространение</text>
<text x="486.5" y="569.5" font-size="14" font-family="DejaVu Sans, Liberation Sans, sans-serif" font-weight="200" stroke="#000" stroke-width="0.45" textLength="28.0" lengthAdjust="spacingAndGlyphs" >L1−</text>
<text x="515.98 525.19 533.95 545.43 554.83" y="570" font-size="14.7" font-family="DejaVu Serif, serif" stroke="#000" stroke-width="0.35">Земля</text>
<text x="602.77 613.65 621.81 630.77 638.93 646.60 655.18 663.20 672.17 680.33 688.43 696.10" y="578.7" font-size="12.5" font-family="DejaVu Serif, serif" stroke="#000" stroke-width="0.35">Обновлено в:</text>
<text x="603.0" y="596.9" font-size="13" font-family="DejaVu Sans, Liberation Sans, sans-serif" font-weight="200" stroke="#000" stroke-width="0.45" textLength="17.0" lengthAdjust="spacingAndGlyphs" >UT</text>
<text x="633.8" y="596.9" font-size="13" font-family="DejaVu Sans, Liberation Sans, sans-serif" font-weight="200" stroke="#000" stroke-width="0.45" textLength="124.0" lengthAdjust="spacingAndGlyphs" >05:05, 03.04.2026</text>
<text x="603.0" y="614.7" font-size="13" font-family="DejaVu Sans, Liberation Sans, sans-serif" font-weight="200" stroke="#000" stroke-width="0.45" textLength="26.0" lengthAdjust="spacingAndGlyphs" >MSK</text>
<text x="633.8" y="614.7" font-size="13" font-family="DejaVu Sans, Liberation Sans, sans-serif" font-weight="200" stroke="#000" stroke-width="0.45" textLength="124.0" lengthAdjust="spacingAndGlyphs" >08:05, 03.04.2026</text>
<text x="158.57 172.37 183.19 192.47 201.64 212.46 221.64 231.32 240.50 249.76 259.98 269.86 279.14 291.57 302.39 313.13 322.86 332.14 342.35 353.17 362.50 371.77 382.58 391.86 401.13 411.50 421.23 431.32 441.20 450.52 460.32 471.13 481.95 492.77 502.03 512.94 525.08" y="596.5" font-size="14.5" font-family="DejaVu Serif, serif" stroke="#000" stroke-width="0.35">Институт космических исследований РАН</text>
<text x="158.8" y="613.5" font-size="14.5" font-family="DejaVu Sans, Liberation Sans, sans-serif" font-weight="200" stroke="#000" stroke-width="0.45" textLength="100.7" lengthAdjust="spacingAndGlyphs" >iki.cosmos.ru</text>
<g font-family="Liberation Serif, serif" font-weight="bold" font-size="35.3" fill="#1a1a1a">
<text transform="translate(92.5,612) scale(0.8,1)">К</text>
<rect x="101.4" y="586" width="14" height="12.5" fill="#fff"/>
<text transform="translate(78,612) scale(0.95,1)">И</text>
<text transform="translate(116.2,612) scale(0.95,1)">И</text>
</g>
<clipPath id="ikc"><circle cx="109.1" cy="593.75" r="5.9"/></clipPath>
<circle cx="109.1" cy="593.75" r="5.9" fill="#1a1a1a"/>
<line x1="104.5" y1="598.5" x2="113.8" y2="589.2" stroke="#a0a0a0" stroke-width="2.3" clip-path="url(#ikc)"/>
</svg></body></html>
